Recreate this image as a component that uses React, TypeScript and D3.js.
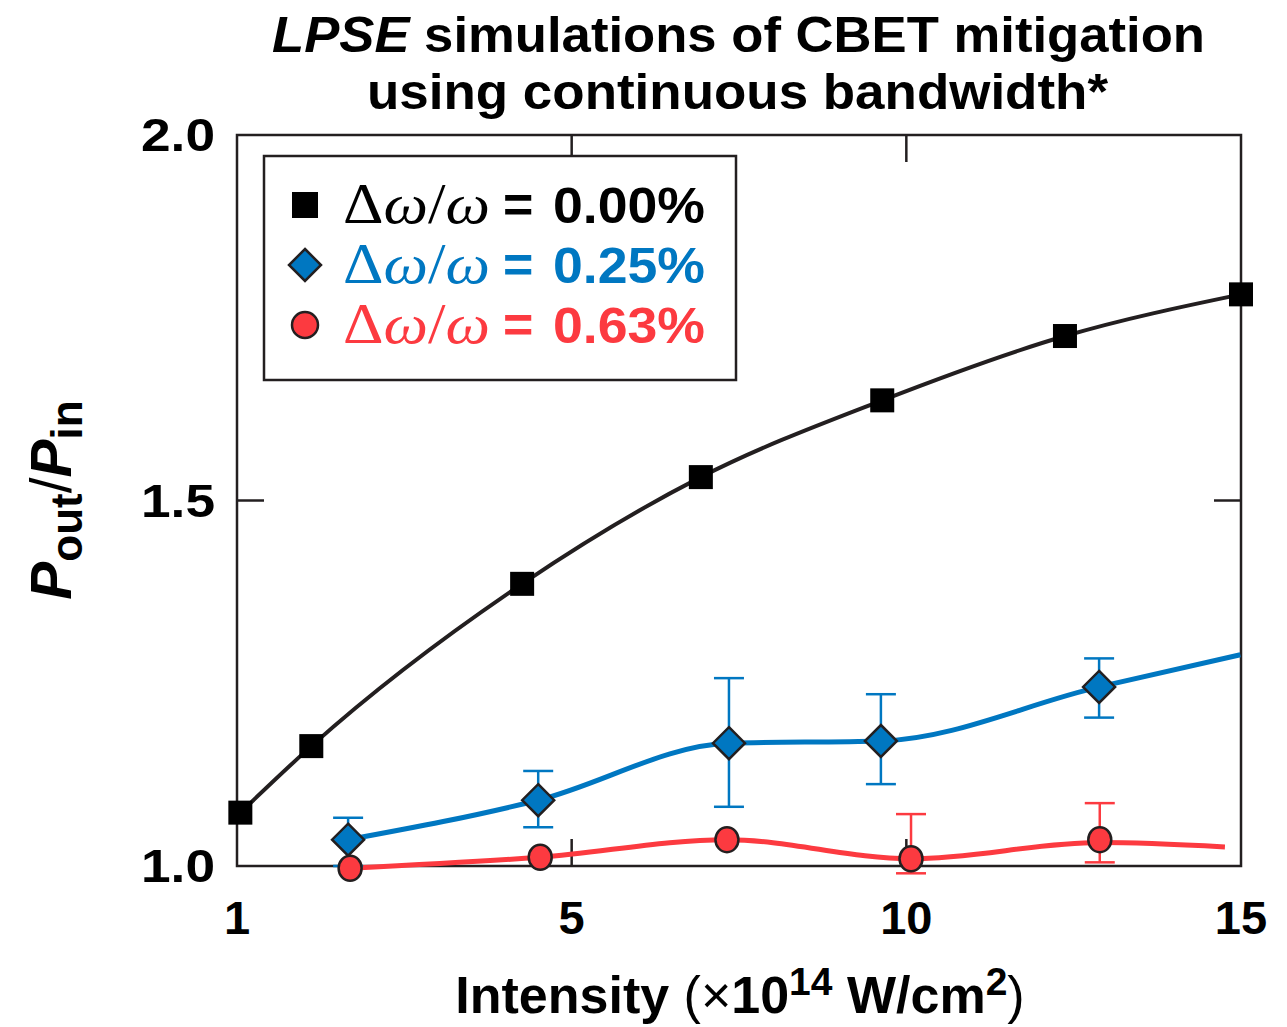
import React from "react";
import * as d3 from "d3";

const xTickValues = [0, 5, 10, 15];
const xTickLabels = ["1", "5", "10", "15"];
const yTickValues = [1.0, 1.5, 2.0];
const yTickLabels = ["1.0", "1.5", "2.0"];

const blackX = [0.05, 1.11, 4.26, 6.93, 9.64, 12.37, 15.0];
const blackY = [1.073, 1.164, 1.386, 1.532, 1.637, 1.725, 1.782];

const blueX = [1.66, 4.5, 7.35, 9.62, 12.88];
const blueY = [1.036, 1.09, 1.168, 1.171, 1.245];
const blueHi = [1.066, 1.13, 1.257, 1.235, 1.284];
const blueLo = [1.0, 1.053, 1.081, 1.112, 1.203];
const blueFitX = [1.66, 4.5, 7.35, 9.62, 12.88, 14.99];
const blueFitY = [1.036, 1.09, 1.168, 1.171, 1.245, 1.289];

const redX = [1.69, 4.53, 7.32, 10.07, 12.89];
const redY = [0.997, 1.012, 1.036, 1.01, 1.036];
const redHi = [null, null, null, 1.071, 1.086];
const redLo = [null, null, null, 0.99, 1.005];
const redFitX = [1.69, 4.53, 7.32, 10.07, 12.89, 14.76];
const redFitY = [0.997, 1.012, 1.036, 1.01, 1.032, 1.026];

const legendValues = ["0.00%", "0.25%", "0.63%"];

const W = 1287;
const H = 1027;
const SANS = "'Liberation Sans', Arial, Helvetica, sans-serif";
const SERIF = "'Liberation Serif', 'Times New Roman', serif";
const BLACK = "#231f20";
const BLUE = "#0077c1";
const RED = "#fc3a40";

export default function App() {
  const x = d3.scaleLinear().domain([0, 15]).range([237, 1241]);
  const y = d3.scaleLinear().domain([1, 2]).range([866, 135]);
  const line = d3
    .line<[number, number]>()
    .x((d) => x(d[0]))
    .y((d) => y(d[1]))
    .curve(d3.curveMonotoneX);

  const blackPts = blackX.map((v, i) => [v, blackY[i]] as [number, number]);
  const bluePts = blueFitX.map((v, i) => [v, blueFitY[i]] as [number, number]);
  const redPts = redFitX.map((v, i) => [v, redFitY[i]] as [number, number]);

  const [x0, x1] = x.range();
  const [yb, yt] = y.range();
  const tickLen = 27;
  const sq = 24;
  const dia = 16;
  const cap = 15;

  const legendX = 264;
  const legendY = 156;
  const legendRows = [205, 265, 325];
  const legendColors = ["#000", BLUE, RED];

  return (
    <div style={{ position: "absolute", left: 0, top: 0 }}>
      <svg width={W} height={H} viewBox={`0 0 ${W} ${H}`} style={{ display: "block", background: "#fff" }}>
        {/* Title */}
        <text x={272} y={52} fontFamily={SANS} fontWeight="bold" fontSize={50} fill="#000" textLength={933} lengthAdjust="spacingAndGlyphs">
          <tspan fontStyle="italic">LPSE</tspan>
          <tspan> simulations of CBET mitigation</tspan>
        </text>
        <text x={367} y={109} fontFamily={SANS} fontWeight="bold" fontSize={50} fill="#000" textLength={741} lengthAdjust="spacingAndGlyphs">
          using continuous bandwidth*
        </text>

        {/* Frame */}
        <rect x={x0} y={yt} width={x1 - x0} height={yb - yt} fill="none" stroke={BLACK} strokeWidth={2.5} />

        {/* Ticks (inward on all sides) */}
        {xTickValues.slice(1, 3).map((v) => (
          <g key={"xt" + v}>
            <line x1={x(v)} x2={x(v)} y1={yb} y2={yb - tickLen} stroke={BLACK} strokeWidth={2.5} />
            <line x1={x(v)} x2={x(v)} y1={yt} y2={yt + tickLen} stroke={BLACK} strokeWidth={2.5} />
          </g>
        ))}
        {yTickValues.slice(1, 2).map((v) => (
          <g key={"yt" + v}>
            <line x1={x0} x2={x0 + tickLen} y1={y(v)} y2={y(v)} stroke={BLACK} strokeWidth={2.5} />
            <line x1={x1} x2={x1 - tickLen} y1={y(v)} y2={y(v)} stroke={BLACK} strokeWidth={2.5} />
          </g>
        ))}

        {/* Tick labels */}
        {xTickValues.map((v, i) => (
          <text key={"xl" + v} x={x(v)} y={934} textAnchor="middle" fontFamily={SANS} fontWeight="bold" fontSize={47} fill="#000">
            {xTickLabels[i]}
          </text>
        ))}
        {yTickValues.map((v, i) => (
          <text key={"yl" + v} x={215} y={y(v) + 16} textAnchor="end" fontFamily={SANS} fontWeight="bold" fontSize={47} fill="#000" textLength={74} lengthAdjust="spacingAndGlyphs">
            {yTickLabels[i]}
          </text>
        ))}

        {/* Axis titles */}
        <text x={740} y={1013} textAnchor="middle" fontFamily={SANS} fontSize={52} fill="#000">
          <tspan fontWeight="bold">Intensity </tspan>
          <tspan>(×</tspan>
          <tspan fontWeight="bold">10</tspan>
          <tspan fontWeight="bold" fontSize={39} dy={-18}>14</tspan>
          <tspan fontWeight="bold" dy={18}> W/cm</tspan>
          <tspan fontWeight="bold" fontSize={39} dy={-18}>2</tspan>
          <tspan dy={18}>)</tspan>
        </text>
        <text transform="translate(71,500) rotate(-90)" textAnchor="middle" fontFamily={SANS} fontSize={57} fill="#000">
          <tspan fontWeight="bold" fontStyle="italic">P</tspan>
          <tspan fontWeight="bold" fontSize={44} dy={11}>out</tspan>
          <tspan dy={-11}>/</tspan>
          <tspan fontWeight="bold" fontStyle="italic">P</tspan>
          <tspan fontWeight="bold" fontSize={44} dy={11}>in</tspan>
        </text>

        {/* Lines */}
        <path d={line(blackPts) || ""} fill="none" stroke={BLACK} strokeWidth={4} />
        <path d={line(bluePts) || ""} fill="none" stroke={BLUE} strokeWidth={5} />
        <path d={line(redPts) || ""} fill="none" stroke={RED} strokeWidth={5} />

        {/* Blue error bars */}
        {blueX.map((v, i) => (
          <g key={"be" + i} stroke={BLUE} strokeWidth={2.5}>
            <line x1={x(v)} x2={x(v)} y1={y(blueHi[i])} y2={y(blueLo[i])} />
            <line x1={x(v) - cap} x2={x(v) + cap} y1={y(blueHi[i])} y2={y(blueHi[i])} />
            <line x1={x(v) - cap} x2={x(v) + cap} y1={y(blueLo[i])} y2={y(blueLo[i])} />
          </g>
        ))}
        {/* Red error bars */}
        {redX.map((v, i) =>
          redHi[i] == null ? null : (
            <g key={"re" + i} stroke={RED} strokeWidth={2.5}>
              <line x1={x(v)} x2={x(v)} y1={y(redHi[i] as number)} y2={y(redLo[i] as number)} />
              <line x1={x(v) - cap} x2={x(v) + cap} y1={y(redHi[i] as number)} y2={y(redHi[i] as number)} />
              <line x1={x(v) - cap} x2={x(v) + cap} y1={y(redLo[i] as number)} y2={y(redLo[i] as number)} />
            </g>
          )
        )}

        {/* Markers */}
        {blackX.map((v, i) => (
          <rect key={"bs" + i} x={x(v) - sq / 2} y={y(blackY[i]) - sq / 2} width={sq} height={sq} fill="#000" />
        ))}
        {blueX.map((v, i) => (
          <path
            key={"bd" + i}
            d={`M${x(v)},${y(blueY[i]) - dia} L${x(v) + dia},${y(blueY[i])} L${x(v)},${y(blueY[i]) + dia} L${x(v) - dia},${y(blueY[i])} Z`}
            fill={BLUE}
            stroke={BLACK}
            strokeWidth={2.5}
          />
        ))}
        {redX.map((v, i) => (
          <ellipse key={"rc" + i} cx={x(v)} cy={y(redY[i])} rx={11.5} ry={12.5} fill={RED} stroke={BLACK} strokeWidth={2.5} />
        ))}

        {/* Legend */}
        <rect x={legendX} y={legendY} width={472} height={224} fill="#fff" stroke={BLACK} strokeWidth={2.5} />
        <rect x={305 - 13} y={legendRows[0] - 13} width={26} height={26} fill="#000" />
        <path
          d={`M305,${legendRows[1] - 16} L321,${legendRows[1]} L305,${legendRows[1] + 16} L289,${legendRows[1]} Z`}
          fill={BLUE}
          stroke={BLACK}
          strokeWidth={2.5}
        />
        <circle cx={305} cy={legendRows[2]} r={13} fill={RED} stroke={BLACK} strokeWidth={2.5} />
        {legendValues.map((val, i) => (
          <g key={"lg" + i} fill={legendColors[i]}>
            <text x={343} y={legendRows[i] + 18} fontSize={56} fontFamily={SERIF} textLength={147} lengthAdjust="spacingAndGlyphs">
              <tspan>Δ</tspan>
              <tspan fontStyle="italic">ω</tspan>
              <tspan>/</tspan>
              <tspan fontStyle="italic">ω</tspan>
            </text>
            <text x={503} y={legendRows[i] + 17} fontSize={52} fontFamily={SANS} fontWeight="bold">
              =
            </text>
            <text x={553} y={legendRows[i] + 18} fontSize={50} fontFamily={SANS} fontWeight="bold" textLength={152} lengthAdjust="spacingAndGlyphs">
              {val}
            </text>
          </g>
        ))}
      </svg>
    </div>
  );
}
